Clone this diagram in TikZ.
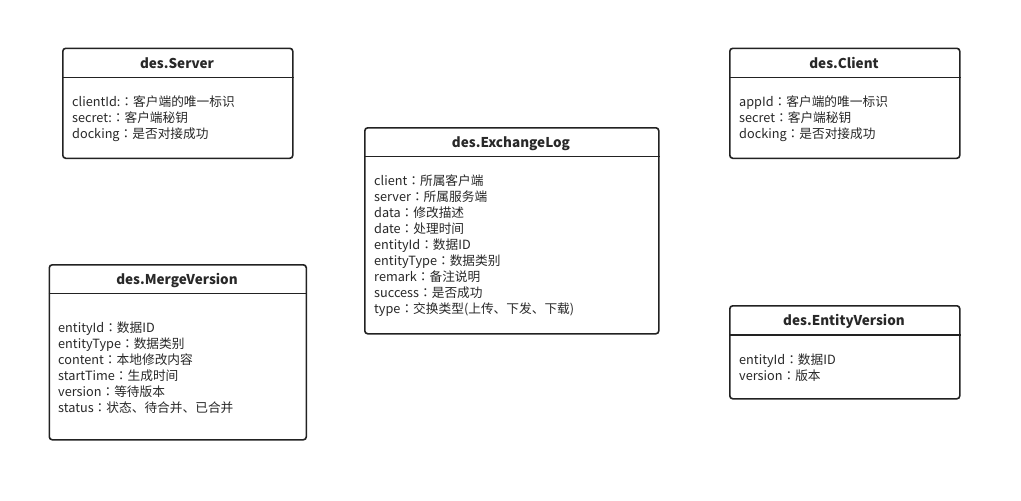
\documentclass[tikz,border=0pt]{standalone}
\usepackage{fontspec}
\usepackage{newunicodechar}
\setmainfont{Noto Sans CJK SC}
\newfontfamily\puntofont{Noto Sans CJK TC}
\newunicodechar{：}{{\puntofont ：}}
\definecolor{linea}{RGB}{34,34,34}
\definecolor{texto}{RGB}{40,40,40}
\tikzset{
    clase/.style={draw=linea, line width=1.6pt, rounded corners=3pt, fill=white, anchor=north west, inner sep=0pt},
    separador/.style={draw=linea, line width=1.4pt},
    titulo/.style={anchor=base, inner sep=0pt, text=texto, font=\fontsize{13.5}{16}\selectfont\bfseries},
    campo/.style={anchor=base west, inner sep=0pt, text=texto, font=\fontsize{12.7}{16}\selectfont}
}
\begin{document}
\begin{tikzpicture}[x=1pt, y=-1pt]

    \useasboundingbox (0,0) rectangle (1021,501);

    % des.Server
    \node[clase, minimum width=230pt, minimum height=110pt] (server) at (62,47.5) {};
    \draw[separador] ([yshift=-30pt]server.north west) -- ([yshift=-30pt]server.north east);
    \node[titulo] (server-t) at (177,68) {des.Server};
    \foreach \t [count=\i] in {clientId:：客户端的唯一标识, secret:：客户端秘钥, docking：是否对接成功}
        \node[campo] (server-\i) at (72,{90.5+16*\i}) {\t};

    % des.Client
    \node[clase, minimum width=230pt, minimum height=110pt] (client) at (729,47.5) {};
    \draw[separador] ([yshift=-30pt]client.north west) -- ([yshift=-30pt]client.north east);
    \node[titulo] (client-t) at (844,68) {des.Client};
    \foreach \t [count=\i] in {appId：客户端的唯一标识, secret：客户端秘钥, docking：是否对接成功}
        \node[campo] (client-\i) at (739,{90.5+16*\i}) {\t};

    % des.ExchangeLog
    \node[clase, minimum width=294pt, minimum height=206pt] (log) at (364,127) {};
    \draw[separador] ([yshift=-29.5pt]log.north west) -- ([yshift=-29.5pt]log.north east);
    \node[titulo] (log-t) at (511,147) {des.ExchangeLog};
    \foreach \t [count=\i] in {client：所属客户端, server：所属服务端, data：修改描述, date：处理时间,
        entityId：数据ID, entityType：数据类别, remark：备注说明, success：是否成功,
        type：交换类型(上传、下发、下载)}
        \node[campo] (log-\i) at (374,{169.5+16*\i}) {\t};

    % des.MergeVersion
    \node[clase, minimum width=257pt, minimum height=175pt] (merge) at (48.5,264) {};
    \draw[separador] ([yshift=-29.5pt]merge.north west) -- ([yshift=-29.5pt]merge.north east);
    \node[titulo] (merge-t) at (177,284) {des.MergeVersion};
    \foreach \t [count=\i] in {entityId：数据ID, entityType：数据类别, content：本地修改内容,
        startTime：生成时间, version：等待版本, status：状态、待合并、已合并}
        \node[campo] (merge-\i) at (58,{316+16*\i}) {\t};

    % des.EntityVersion
    \node[clase, minimum width=230pt, minimum height=93pt] (entity) at (729,305) {};
    \draw[separador] ([yshift=-30pt]entity.north west) -- ([yshift=-30pt]entity.north east);
    \node[titulo] (entity-t) at (844,325.5) {des.EntityVersion};
    \foreach \t [count=\i] in {entityId：数据ID, version：版本}
        \node[campo] (entity-\i) at (739,{348+16*\i}) {\t};

\end{tikzpicture}
\end{document}
